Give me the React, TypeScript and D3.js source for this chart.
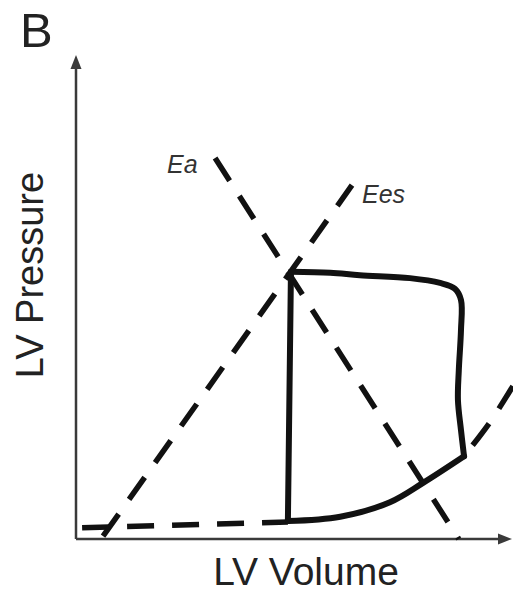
import React from "react";
import * as d3 from "d3";

type P = [number, number];

// Pressure-volume loop, arbitrary units (volume 0..100, pressure 0..100)
const isovolumicContraction: P[] = [[48.6, 3.7], [49.3, 55.2]];
const ejection: P[] = [
  [49.3, 55.2], [58.3, 55.0], [65.1, 54.5], [76.6, 53.9], [83.5, 52.9], [86.9, 51.7],
  [88.3, 49.4], [88.3, 43.2], [87.8, 34.9], [87.6, 28.7], [88.3, 22.5], [89.0, 17.1],
];
const filling: P[] = [[89.0, 17.1], [79.6, 11.6], [72.0, 7.6], [60.6, 4.6], [48.6, 3.7]];
const edpvrLeft: P[] = [[1.4, 2.3], [48.6, 3.5]];
const edpvrRight: P[] = [[89.0, 17.1], [95.0, 24.2], [100.2, 31.6]];
const eesLine: P[] = [[6.2, 0.6], [63.3, 73.1]];
const eaLine: P[] = [[31.9, 78.7], [87.8, 0]];

const panelLabel = "B";
const xLabel = "LV Volume";
const yLabel = "LV Pressure";
const eaLabel = "Ea";
const eesLabel = "Ees";

const W = 513;
const H = 592;

export default function App() {
  const x = d3.scaleLinear().domain([0, 100]).range([76, 512]);
  const y = d3.scaleLinear().domain([0, 100]).range([539, 55]);
  const lin = d3.line<P>().x((d) => x(d[0])).y((d) => y(d[1]));
  const smooth = d3
    .line<P>()
    .x((d) => x(d[0]))
    .y((d) => y(d[1]))
    .curve(d3.curveCatmullRom.alpha(0.5));

  const x0 = x(0);
  const y0 = y(0);
  const xEnd = x(100);
  const yEnd = y(100);
  const axisColor = "#3a3a3a";
  const ink = "#111";
  const dash = "27 18";
  const font = "'Liberation Sans', Arial, Helvetica, sans-serif";

  return (
    <svg
      width={W}
      height={H}
      style={{ position: "absolute", left: 0, top: 0, background: "#fff" }}
    >
      <text x={20} y={47} fontSize={49} fontFamily={font} fill="#222">
        {panelLabel}
      </text>

      {/* axes */}
      <line x1={x0} y1={y0} x2={x0} y2={yEnd + 12} stroke={axisColor} strokeWidth={2.5} />
      <path d={`M${x0},${yEnd} L${x0 - 5.5},${yEnd + 14} L${x0 + 5.5},${yEnd + 14} Z`} fill={axisColor} />
      <line x1={x0} y1={y0} x2={xEnd - 12} y2={y0} stroke={axisColor} strokeWidth={2.5} />
      <path d={`M${xEnd},${y0} L${xEnd - 14},${y0 - 5.5} L${xEnd - 14},${y0 + 5.5} Z`} fill={axisColor} />

      {/* dashed relations */}
      <g fill="none" stroke={ink} strokeWidth={5.5} strokeDasharray={dash}>
        <path d={lin(edpvrLeft) || ""} />
        <path d={smooth(edpvrRight) || ""} strokeDashoffset={-14} />
        <path d={lin(eesLine) || ""} />
        <path d={lin(eaLine) || ""} />
      </g>

      {/* PV loop */}
      <g fill="none" stroke={ink} strokeWidth={6} strokeLinejoin="round" strokeLinecap="round">
        <path d={lin(isovolumicContraction) || ""} />
        <path d={smooth(ejection) || ""} />
        <path d={smooth(filling) || ""} />
      </g>

      <text x={167} y={173} fontSize={25} fontStyle="italic" fontFamily={font} fill="#333">
        {eaLabel}
      </text>
      <text x={362} y={203} fontSize={25} fontStyle="italic" fontFamily={font} fill="#333">
        {eesLabel}
      </text>

      <text x={306} y={585} fontSize={39} textAnchor="middle" fontFamily={font} fill="#222">
        {xLabel}
      </text>
      <text
        transform={`translate(43,275) rotate(-90)`}
        fontSize={38}
        textAnchor="middle"
        fontFamily={font}
        fill="#222"
      >
        {yLabel}
      </text>
    </svg>
  );
}
